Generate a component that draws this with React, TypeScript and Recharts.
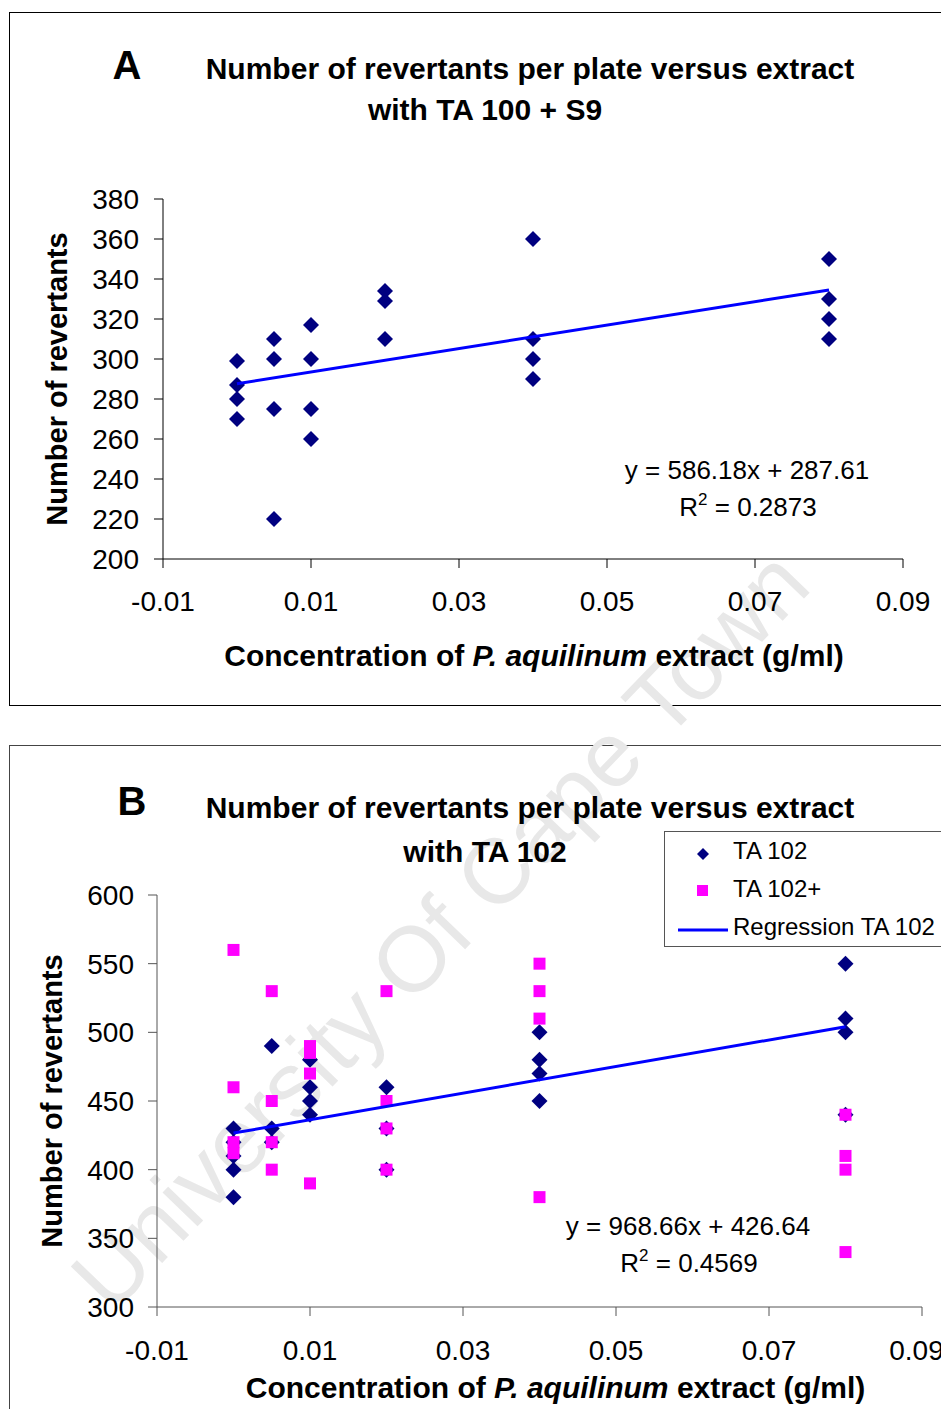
import { ScatterChart, Scatter, XAxis, YAxis, Legend } from "recharts";

// concentrations of P. aquilinum extract (g/ml)
const concentrations = [0, 0.005, 0.01, 0.02, 0.04, 0.08];

// A: TA 100 + S9, revertants per plate at each concentration
const ta100Values = [
  [299, 287, 280, 270],
  [310, 300, 275, 220],
  [317, 300, 275, 260],
  [334, 329, 310],
  [360, 310, 300, 290],
  [350, 330, 320, 310],
];

// B: TA 102 and TA 102+
const ta102Values = [
  [430, 420, 410, 400, 380],
  [490, 430, 420],
  [480, 460, 450, 440],
  [460, 430, 400],
  [500, 480, 470, 450],
  [550, 510, 500, 440],
];
const ta102PlusValues = [
  [560, 460, 420, 412],
  [530, 450, 420, 400],
  [490, 485, 470, 390],
  [530, 450, 430, 400],
  [550, 530, 510, 380],
  [440, 410, 400, 340],
];

const xTicks = [-0.01, 0.01, 0.03, 0.05, 0.07, 0.09];
const yTicksA = [200, 220, 240, 260, 280, 300, 320, 340, 360, 380];
const yTicksB = [300, 350, 400, 450, 500, 550, 600];

// fitted lines as printed on the charts
const fitA = { slope: 586.18, intercept: 287.61 };
const fitB = { slope: 968.66, intercept: 426.64 };
const fitRange = [0, 0.08];

const toPoints = (values: number[][]) =>
  concentrations.flatMap((x, i) => values[i].map((y) => ({ x, y })));
const fitPoints = (fit: { slope: number; intercept: number }) =>
  fitRange.map((x) => ({ x, y: fit.slope * x + fit.intercept }));

const FONT = '"Liberation Sans", Arial, sans-serif';
const NAVY = "#000080";
const MAGENTA = "#FF00FF";
const BLUE = "#0000FF";

const Diamond = (props: any) => {
  const { cx, cy } = props;
  const r = 8;
  return (
    <polygon
      points={`${cx},${cy - r} ${cx + r},${cy} ${cx},${cy + r} ${cx - r},${cy}`}
      fill={NAVY}
    />
  );
};

const Square = (props: any) => {
  const { cx, cy } = props;
  return <rect x={cx - 6} y={cy - 6} width={12} height={12} fill={MAGENTA} />;
};

const NoShape = () => <g />;

const tickStyle = { fill: "#000", fontSize: 28, fontFamily: FONT };

const xLabel = (dx: number, dy: number) => (props: any) => {
  const vb = props.viewBox || {};
  return (
    <text
      x={vb.x + vb.width / 2 + dx}
      y={vb.y + dy}
      textAnchor="middle"
      fontFamily={FONT}
      fontSize={30}
      fontWeight="bold"
      fill="#000"
    >
      Concentration of <tspan fontStyle="italic">P. aquilinum</tspan> extract
      (g/ml)
    </text>
  );
};

const yLabel = (x: number) => (props: any) => {
  const vb = props.viewBox || {};
  const cy = vb.y + vb.height / 2;
  return (
    <text
      x={x}
      y={cy}
      transform={`rotate(-90, ${x}, ${cy})`}
      textAnchor="middle"
      dominantBaseline="central"
      fontFamily={FONT}
      fontSize={29}
      fontWeight="bold"
      fill="#000"
    >
      Number of revertants
    </text>
  );
};

const LegendBox = () => (
  <div
    style={{
      border: "1px solid #555",
      background: "#fff",
      width: 320,
      height: 116,
      fontFamily: FONT,
      fontSize: 24,
      position: "relative",
      boxSizing: "border-box",
    }}
  >
    <svg width={70} height={116} style={{ position: "absolute", left: 0, top: 0 }}>
      <polygon points="38,16 44,22 38,28 32,22" fill={NAVY} />
      <rect x={32} y={53} width={11} height={11} fill={MAGENTA} />
      <line x1={13} y1={98} x2={63} y2={98} stroke={BLUE} strokeWidth={3} />
    </svg>
    <div style={{ position: "absolute", left: 68, top: 5 }}>TA 102</div>
    <div style={{ position: "absolute", left: 68, top: 43 }}>TA 102+</div>
    <div style={{ position: "absolute", left: 68, top: 81, whiteSpace: "nowrap" }}>
      Regression TA 102
    </div>
  </div>
);

const abs = (left: number, top: number, extra: any = {}) => ({
  position: "absolute" as const,
  left,
  top,
  ...extra,
});

const titleStyle = {
  fontFamily: FONT,
  fontWeight: "bold" as const,
  fontSize: 30,
  whiteSpace: "nowrap" as const,
  lineHeight: "34px",
  color: "#000",
};

const eqStyle = {
  fontFamily: FONT,
  fontSize: 26,
  whiteSpace: "nowrap" as const,
  lineHeight: "30px",
  color: "#000",
};

export default function App() {
  return (
    <div
      style={{
        position: "fixed",
        left: 0,
        top: 0,
        width: 941,
        height: 1409,
        overflow: "hidden",
        background: "#fff",
      }}
    >
      {/* panel frames */}
      <div style={abs(9, 12, { width: 940, height: 694, border: "1px solid #000", boxSizing: "border-box" })} />
      <div style={abs(9, 745, { width: 940, height: 700, border: "1px solid #444", boxSizing: "border-box" })} />

      {/* watermark */}
      <div
        style={abs(440, 930, {
          transform: "translate(-50%, -50%) rotate(-46deg)",
          fontFamily: FONT,
          fontSize: 92,
          color: "#e8e8e8",
          whiteSpace: "nowrap",
        })}
      >
        University Of Cape Town
      </div>

      {/* Chart A */}
      <div style={abs(0, 0, { width: 941, height: 706 })}>
        <ScatterChart
          width={941}
          height={706}
          margin={{ top: 199, right: 38, bottom: 107, left: 103 }}
          style={{ position: "absolute", left: 0, top: 0 }}
        >
          <XAxis
            type="number"
            dataKey="x"
            domain={[-0.01, 0.09]}
            ticks={xTicks}
            tickFormatter={(v: number) => v.toFixed(2)}
            allowDataOverflow
            height={40}
            stroke="#000"
            tickSize={9}
            tickMargin={23}
            tick={tickStyle}
            label={{ content: xLabel(1, 107) }}
          />
          <YAxis
            type="number"
            dataKey="y"
            domain={[200, 380]}
            ticks={yTicksA}
            interval={0}
            allowDataOverflow
            width={60}
            stroke="#000"
            tickSize={9}
            tickMargin={15}
            tick={tickStyle}
            label={{ content: yLabel(57) }}
          />
          <Scatter
            name="TA 100 + S9"
            data={toPoints(ta100Values)}
            shape={Diamond}
            isAnimationActive={false}
          />
          <Scatter
            name="Regression"
            data={fitPoints(fitA)}
            shape={NoShape}
            line={{ stroke: BLUE, strokeWidth: 3 }}
            isAnimationActive={false}
          />
        </ScatterChart>
      </div>

      <div style={abs(127, 65, { ...titleStyle, fontSize: 40, transform: "translate(-50%, -50%)" })}>A</div>
      <div style={abs(530, 69, { ...titleStyle, transform: "translate(-50%, -50%)" })}>
        Number of revertants per plate versus extract
      </div>
      <div style={abs(485, 110, { ...titleStyle, transform: "translate(-50%, -50%)" })}>
        with TA 100 + S9
      </div>
      <div style={abs(747, 470, { ...eqStyle, transform: "translate(-50%, -50%)" })}>
        y = 586.18x + 287.61
      </div>
      <div style={abs(748, 507, { ...eqStyle, transform: "translate(-50%, -50%)" })}>
        R<sup style={{ fontSize: 17, verticalAlign: "top", lineHeight: "16px" }}>2</sup> = 0.2873
      </div>

      {/* Chart B */}
      <div style={abs(0, 706, { width: 941, height: 703 })}>
        <ScatterChart
          width={941}
          height={703}
          margin={{ top: 189, right: 19, bottom: 62, left: 97 }}
          style={{ position: "absolute", left: 0, top: 0 }}
        >
          <XAxis
            type="number"
            dataKey="x"
            domain={[-0.01, 0.09]}
            ticks={xTicks}
            tickFormatter={(v: number) => v.toFixed(2)}
            allowDataOverflow
            height={40}
            stroke="#555"
            tickSize={9}
            tickMargin={24}
            tick={tickStyle}
            label={{ content: xLabel(16, 91) }}
          />
          <YAxis
            type="number"
            dataKey="y"
            domain={[300, 600]}
            ticks={yTicksB}
            interval={0}
            allowDataOverflow
            width={60}
            stroke="#555"
            tickSize={9}
            tickMargin={14}
            tick={tickStyle}
            label={{ content: yLabel(52) }}
          />
          <Legend
            layout="vertical"
            align="center"
            verticalAlign="middle"
            content={LegendBox}
            wrapperStyle={{ left: 664, top: 125, width: 320, height: 118 }}
          />
          <Scatter
            name="TA 102"
            data={toPoints(ta102Values)}
            shape={Diamond}
            isAnimationActive={false}
          />
          <Scatter
            name="TA 102+"
            data={toPoints(ta102PlusValues)}
            shape={Square}
            isAnimationActive={false}
          />
          <Scatter
            name="Regression TA 102"
            data={fitPoints(fitB)}
            shape={NoShape}
            line={{ stroke: BLUE, strokeWidth: 3 }}
            isAnimationActive={false}
          />
        </ScatterChart>
      </div>

      <div style={abs(132, 801, { ...titleStyle, fontSize: 40, transform: "translate(-50%, -50%)" })}>B</div>
      <div style={abs(530, 808, { ...titleStyle, transform: "translate(-50%, -50%)" })}>
        Number of revertants per plate versus extract
      </div>
      <div style={abs(485, 852, { ...titleStyle, transform: "translate(-50%, -50%)" })}>
        with TA 102
      </div>
      <div style={abs(688, 1226, { ...eqStyle, transform: "translate(-50%, -50%)" })}>
        y = 968.66x + 426.64
      </div>
      <div style={abs(689, 1263, { ...eqStyle, transform: "translate(-50%, -50%)" })}>
        R<sup style={{ fontSize: 17, verticalAlign: "top", lineHeight: "16px" }}>2</sup> = 0.4569
      </div>
    </div>
  );
}
